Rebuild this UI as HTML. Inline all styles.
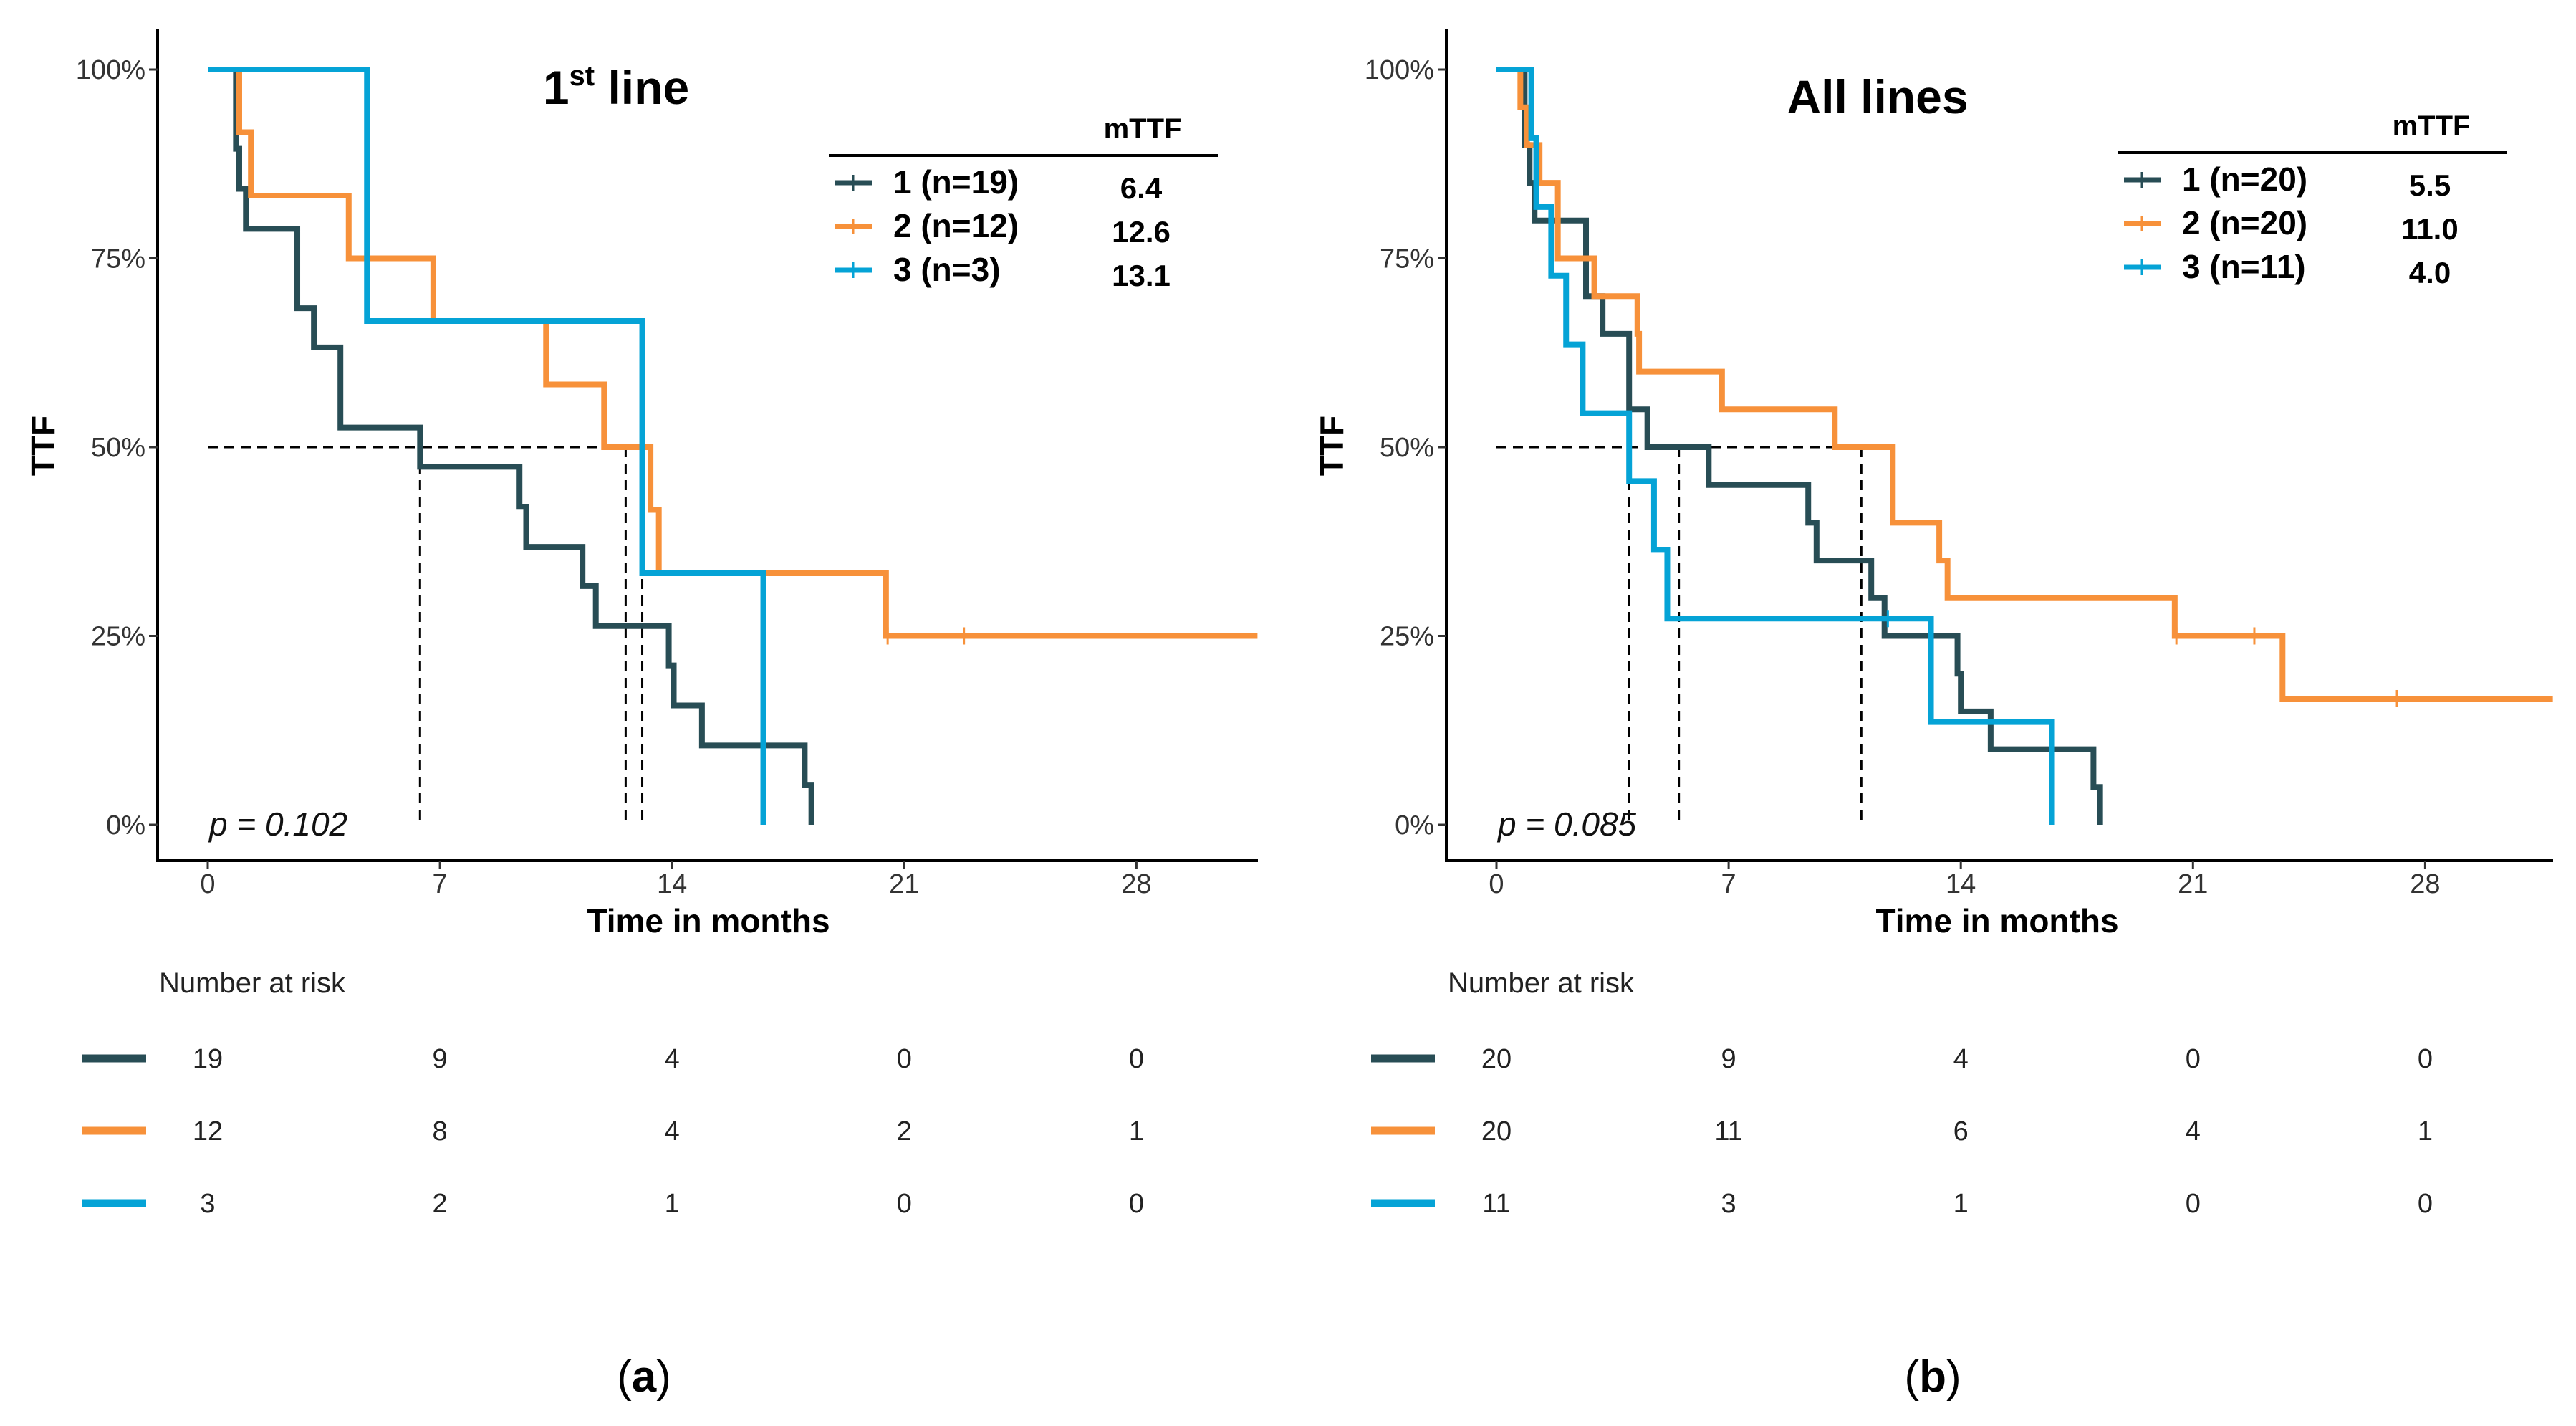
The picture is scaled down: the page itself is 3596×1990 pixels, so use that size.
<!DOCTYPE html>
<html><head><meta charset="utf-8">
<style>
html,body{margin:0;padding:0;background:#fff;}
svg{display:block;}
text{font-family:"Liberation Sans",sans-serif;}
</style></head>
<body>
<svg id="fig" width="3596" height="1990" viewBox="0 0 3596 1990" xmlns="http://www.w3.org/2000/svg"></svg>
<script>
// ===== Panel A data (1st line) =====
const aG1Times = [0,0.85,0.95,1.15,2.7,3.2,4.0,6.4,9.4,9.6,11.3,11.7,13.9,14.05,14.9,18.0,18.2];
const aG1Surv  = [100,89.5,84.2,78.9,68.4,63.2,52.6,47.4,42.1,36.8,31.6,26.3,21.1,15.8,10.5,5.3,0];
const aG2Times = [0,0.95,1.3,4.25,6.8,10.2,11.95,13.35,13.6,20.45];
const aG2Surv  = [100,91.7,83.3,75,66.7,58.3,50,41.7,33.3,25];
const aG2End = 31.65;
const aG2Censor = [20.5,22.8];
const aG3Times = [0,4.8,13.1,16.75];
const aG3Surv  = [100,66.7,33.3,0];
const aMedians = [6.4,12.6,13.1];
const aLegendLabels = ["1 (n=19)","2 (n=12)","3 (n=3)"];
const aLegendValues = ["6.4","12.6","13.1"];
const aRisk = [[19,9,4,0,0],[12,8,4,2,1],[3,2,1,0,0]];

// ===== Panel B data (All lines) =====
const bG1Times = [0,0.85,1.0,1.15,2.7,3.2,4.0,4.55,6.4,9.4,9.65,11.3,11.7,13.9,14.0,14.9,18.0,18.2];
const bG1Surv  = [100,90,85,80,70,65,55,50,45,40,35,30,25,20,15,10,5,0];
const bG2Times = [0,0.72,0.92,1.3,1.85,2.95,4.25,4.3,6.8,10.2,11.95,13.35,13.6,20.45,23.7];
const bG2Surv  = [100,95,90,85,75,70,65,60,55,50,40,35,30,25,16.7];
const bG2End = 31.85;
const bG2Censor = [20.5,22.85,27.15];
const bG3Times = [0,1.05,1.2,1.65,2.1,2.6,4.0,4.75,5.15,13.1,16.75];
const bG3Surv  = [100,90.9,81.8,72.7,63.6,54.5,45.5,36.4,27.3,13.6,0];
const bG3Censor = [11.8];
const bMedians = [4.0,5.5,11.0];
const bLegendLabels = ["1 (n=20)","2 (n=20)","3 (n=11)"];
const bLegendValues = ["5.5","11.0","4.0"];
const bRisk = [[20,9,4,0,0],[20,11,6,4,1],[11,3,1,0,0]];

const xTicks = [0,7,14,21,28];
const yTicks = [0,25,50,75,100];
const yTickLabels = ["0%","25%","50%","75%","100%"];
const COLORS = ["#284d55","#f7913a","#05a3d6"];

const NS = "http://www.w3.org/2000/svg";
const svg = document.getElementById("fig");
function mk(tag, attrs, parent, txt){
  const e = document.createElementNS(NS, tag);
  for (const k in attrs) e.setAttribute(k, attrs[k]);
  if (txt !== undefined) e.textContent = txt;
  (parent || svg).appendChild(e);
  return e;
}

function panel(cfg){
  const dx = cfg.dx;
  const X = t => dx + 290 + t * 46.3;
  const Y = s => 1151 - s * 10.54;
  const g = mk("g", {});
  
  

  const ax = mk("path", {d:`M${dx+220},41 V1201 H${dx+cfg.axEnd}`, stroke:"#000", "stroke-width":4, fill:"none"}, g);
  
  
  yTicks.forEach((v,i)=>{
    mk("line",{x1:dx+208,x2:dx+220,y1:Y(v),y2:Y(v),stroke:"#333","stroke-width":3},g);
    const t = mk("text",{x:dx+203,y:Y(v)+13,"text-anchor":"end","font-size":38,fill:"#333"},g,yTickLabels[i]);
    
    
  });
  xTicks.forEach(v=>{
    mk("line",{x1:X(v),x2:X(v),y1:1201,y2:1213,stroke:"#333","stroke-width":3},g);
    const t = mk("text",{x:X(v),y:1246,"text-anchor":"middle","font-size":38,fill:"#333"},g,String(v));
    
    
  });
  const yt = mk("text",{x:0,y:0,transform:`translate(${dx+76},622) rotate(-90)`,"text-anchor":"middle","font-size":46,"font-weight":"bold"},g,"TTF");
  
  
  const xt = mk("text",{x:dx+989,y:1301,"text-anchor":"middle","font-size":46,"font-weight":"bold"},g,"Time in months");
  
  

  const tt = mk("text",{x:cfg.titleX,y:cfg.titleY,"text-anchor":"middle","font-size":66,"font-weight":"bold"},g);
  
  
  if (cfg.sup){
    mk("tspan",{},tt,"1");
    mk("tspan",{"font-size":40,dy:-26},tt,"st");
    mk("tspan",{dy:26},tt," line");
  } else tt.textContent = cfg.title;

  const maxMed = Math.max(...cfg.medians);
  const hd = mk("line",{x1:X(0),x2:X(maxMed),y1:Y(50),y2:Y(50),stroke:"#000","stroke-width":3,"stroke-dasharray":"14,9"},g);
  
  
  cfg.medians.forEach(m=>{
    const vd = mk("line",{x1:X(m),x2:X(m),y1:Y(50),y2:Y(0),stroke:"#000","stroke-width":3,"stroke-dasharray":"14,9"},g);
    
    
  });

  cfg.series.forEach((s,i)=>{
    let d = `M${X(s.t[0])},${Y(s.s[0])}`;
    for (let k=1;k<s.t.length;k++){
      d += ` H${X(s.t[k])} V${Y(s.s[k])}`;
    }
    if (s.end !== undefined) d += ` H${X(s.end)}`;
    const p = mk("path",{d:d,stroke:COLORS[i],"stroke-width":8,fill:"none"},g);
    
    
    (s.censor||[]).forEach(c=>{
      let sv = s.s[0];
      for (let k=0;k<s.t.length;k++) if (s.t[k] <= c) sv = s.s[k];
      const cm = mk("line",{x1:X(c),x2:X(c),y1:Y(sv)-12,y2:Y(sv)+12,stroke:COLORS[i],"stroke-width":3},g);
      
      
    });
  });

  const pv = mk("text",{x:dx+292,y:1166,"font-size":46,"font-style":"italic",fill:"#111"},g,cfg.p);
  
  

  const lg = mk("g",{},g);
  
  
  mk("text",{x:dx+1595,y:cfg.legY-24,"text-anchor":"middle","font-size":40,"font-weight":"bold"},lg,"mTTF");
  mk("line",{x1:dx+1157,x2:dx+1700,y1:cfg.legY,y2:cfg.legY,stroke:"#000","stroke-width":4},lg);
  cfg.legendLabels.forEach((lab,i)=>{
    const y = cfg.legY + 38 + i*61;
    const e = mk("g",{},lg);
    
    
    mk("line",{x1:dx+1166,x2:dx+1217,y1:y,y2:y,stroke:COLORS[i],"stroke-width":7},e);
    mk("line",{x1:dx+1191,x2:dx+1191,y1:y-11,y2:y+11,stroke:COLORS[i],"stroke-width":3},e);
    mk("text",{x:dx+1247,y:y+15,"font-size":46,"font-weight":"bold"},e,lab);
    mk("text",{x:dx+1593,y:y+22,"text-anchor":"middle","font-size":42,"font-weight":"bold"},e,cfg.legendValues[i]);
  });

  const rt = mk("g",{},g);
  
  
  mk("text",{x:dx+222,y:1385,"font-size":40,fill:"#222"},rt,"Number at risk");
  cfg.risk.forEach((row,i)=>{
    const y = 1477 + i*101;
    mk("line",{x1:dx+115,x2:dx+204,y1:y,y2:y,stroke:COLORS[i],"stroke-width":11},rt);
    row.forEach((v,j)=>{
      mk("text",{x:X(xTicks[j]),y:y+13,"text-anchor":"middle","font-size":38,fill:"#222"},rt,String(v));
    });
  });

  const cap = mk("text",{x:dx+899,y:1942,"text-anchor":"middle","font-size":62,"font-family":"Liberation Serif, serif"},g);
  
  
  mk("tspan",{},cap,"(");
  mk("tspan",{"font-weight":"bold"},cap,cfg.cap);
  mk("tspan",{},cap,")");
}

panel({dx:0,axEnd:1756,name:"panel-a-first-line",sup:true,titleX:860,titleY:145,legY:217,p:"p = 0.102",
  medians:aMedians,legendLabels:aLegendLabels,legendValues:aLegendValues,risk:aRisk,cap:"a",
  series:[{t:aG1Times,s:aG1Surv},{t:aG2Times,s:aG2Surv,end:aG2End,censor:aG2Censor},{t:aG3Times,s:aG3Surv}]});
panel({dx:1799,axEnd:1765,name:"panel-b-all-lines",sup:false,title:"All lines",titleX:2621,titleY:158,legY:213,p:"p = 0.085",
  medians:bMedians,legendLabels:bLegendLabels,legendValues:bLegendValues,risk:bRisk,cap:"b",
  series:[{t:bG1Times,s:bG1Surv},{t:bG2Times,s:bG2Surv,end:bG2End,censor:bG2Censor},{t:bG3Times,s:bG3Surv,censor:bG3Censor}]});
</script>
</body></html>
